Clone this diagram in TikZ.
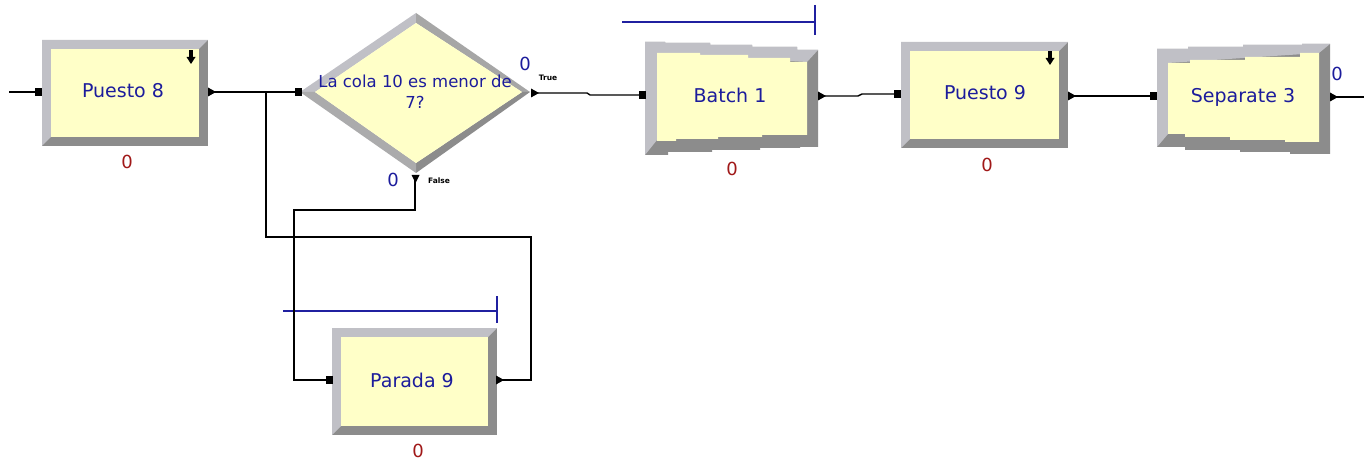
\documentclass[tikz,border=0pt]{standalone}
\usepackage{fontspec}
\setmainfont{DejaVu Sans}
\definecolor{boxfill}{HTML}{FFFFC8}
\definecolor{bevlight}{HTML}{C0C0C6}
\definecolor{bevdark}{HTML}{8C8C8C}
\definecolor{bevmid}{HTML}{A6A6A6}
\definecolor{labblue}{HTML}{1C1C9C}
\definecolor{cntred}{HTML}{A01818}
\definecolor{qblue}{HTML}{2020A0}
\tikzset{
  lab/.style={text=labblue, font=\fontsize{19}{21}\selectfont, inner sep=0pt, align=center},
  declab/.style={text=labblue, font=\fontsize{16.5}{21}\selectfont, inner sep=0pt, align=center},
  cnt/.style={text=cntred, font=\fontsize{18}{20}\selectfont, inner sep=0pt},
  bcnt/.style={text=labblue, font=\fontsize{18}{20}\selectfont, inner sep=0pt},
  tiny/.style={text=black, font=\fontsize{7.5}{8}\selectfont\bfseries, inner sep=0pt},
  conn/.style={draw=black, line width=1.4pt},
  queue/.style={draw=qblue, line width=1.8pt},
}
\newcommand\arenabox[4]{%
  \fill[bevdark] (#1,#2) rectangle (#3,#4);
  \fill[bevlight] (#1,#2) -- (#3,#2) -- ({#3-9},{#2+9}) -- ({#1+9},{#2+9}) -- ({#1+9},{#4-9}) -- (#1,#4) -- cycle;
  \fill[boxfill] ({#1+9},{#2+9}) rectangle ({#3-9},{#4-9});}
\newcommand\inport[2]{\fill[black] ({#1-3.5},{#2-4}) rectangle ({#1+3.5},{#2+4});}
\newcommand\outport[2]{\fill[black] ({#1-2},{#2-4.5}) -- ({#1+6},{#2}) -- ({#1-2},{#2+4.5}) -- cycle;}
\newcommand\resicon[2]{%
  \fill[black] ({#1-1.8},{#2}) rectangle ({#1+1.8},{#2+9});
  \fill[black] ({#1-4.5},{#2+7}) -- ({#1+4.5},{#2+7}) -- ({#1},{#2+14}) -- cycle;}
\begin{document}
\begin{tikzpicture}[x=1pt,y=-1pt]
\useasboundingbox (0,0) rectangle (1364,462);
\fill[white] (0,0) rectangle (1364,462);

% ---------- Puesto 8
\arenabox{42}{40}{208}{146}
\resicon{191}{50}
\node[lab] (p8) at (123,91) {Puesto 8};
\node[cnt] (p8c) at (127,162) {0};
\coordinate (p8in) at (38,92);
\coordinate (p8out) at (210,92);

% ---------- Decide
\fill[bevlight] (300,92) -- (416,13) -- (416,23) -- (315,92) -- cycle;
\fill[bevmid] (416,13) -- (530,92) -- (522,92) -- (416,23) -- cycle;
\fill[bevdark] (530,92) -- (416,173) -- (416,163) -- (522,92) -- cycle;
\fill[bevmid!80!bevlight] (416,173) -- (300,92) -- (315,92) -- (416,163) -- cycle;
\fill[boxfill] (315,92) -- (416,23) -- (522,92) -- (416,163) -- cycle;
\node[declab] (dec) at (415,92) {La cola 10 es menor de\\7?};
\node[bcnt] (dect) at (525,64) {0};
\node[bcnt] (decf) at (393,180) {0};
\node[tiny] (truelab) at (548,78) {True};
\node[tiny] (falselab) at (439,181) {False};
\coordinate (decin) at (298,92);
\coordinate (dectrue) at (533,93);
\coordinate (decfalse) at (415,177);

% ---------- Batch 1 (queue line)
\draw[queue] (622,22) -- (815,22);
\draw[queue] (815,5) -- (815,35);
\fill[bevdark] (645,42) -- (665,42) -- (665,43) -- (710,43) -- (710,45) -- (752,45) -- (752,47) -- (797,47) -- (797,50) -- (818,50)
  -- (818,147) -- (800,147) -- (800,148) -- (760,148) -- (760,150) -- (712,150) -- (712,152) -- (668,152) -- (668,155) -- (645,155) -- cycle;
\fill[bevlight] (645,42) -- (665,42) -- (665,43) -- (710,43) -- (710,45) -- (752,45) -- (752,47) -- (797,47) -- (797,50) -- (818,50)
  -- (807,62) -- (657,53) -- (657,140) -- (645,155) -- cycle;
\fill[boxfill] (657,53) -- (700,53) -- (700,55) -- (748,55) -- (748,58) -- (790,58) -- (790,62) -- (807,62)
  -- (807,135) -- (762,135) -- (762,137) -- (718,137) -- (718,139) -- (676,139) -- (676,141) -- (657,141) -- cycle;
\node[lab] (b1) at (730,95) {Batch 1};
\node[cnt] (b1c) at (732,169) {0};
\coordinate (b1in) at (642,95);
\coordinate (b1out) at (820,96);

% ---------- Puesto 9
\arenabox{901}{42}{1068}{148}
\resicon{1050}{51}
\node[lab] (p9) at (985,93) {Puesto 9};
\node[cnt] (p9c) at (987,165) {0};
\coordinate (p9in) at (897,94);
\coordinate (p9out) at (1070,96);

% ---------- Separate 3
\fill[bevdark] (1157,49) -- (1188,49) -- (1188,47) -- (1243,47) -- (1243,45) -- (1302,45) -- (1302,44) -- (1330,44)
  -- (1330,154) -- (1290,154) -- (1290,152) -- (1240,152) -- (1240,150) -- (1185,150) -- (1185,147) -- (1157,147) -- cycle;
\fill[bevlight] (1157,49) -- (1188,49) -- (1188,47) -- (1243,47) -- (1243,45) -- (1302,45) -- (1302,44) -- (1330,44)
  -- (1319,53) -- (1168,63) -- (1168,134) -- (1157,147) -- cycle;
\fill[boxfill] (1168,63) -- (1190,63) -- (1190,60) -- (1245,60) -- (1245,57) -- (1300,57) -- (1300,53) -- (1319,53)
  -- (1319,142) -- (1285,142) -- (1285,140) -- (1230,140) -- (1230,137) -- (1185,137) -- (1185,134) -- (1168,134) -- cycle;
\node[lab] (s3) at (1243,97) {Separate 3};
\node[bcnt] (s3c) at (1337,74) {0};
\coordinate (s3in) at (1153,96);
\coordinate (s3out) at (1332,97);

% ---------- Parada 9 (queue line)
\draw[queue] (283,311) -- (497,311);
\draw[queue] (497,296) -- (497,323);
\arenabox{332}{328}{497}{435}
\node[lab] (pa9) at (412,380) {Parada 9};
\node[cnt] (pa9c) at (418,451) {0};
\coordinate (pa9in) at (329,380);
\coordinate (pa9out) at (498,380);

% ---------- free ends
\coordinate (src) at (9,92);
\coordinate (sink) at (1364,97);

% ---------- connectors
\draw[conn] (src) -- (p8in);
\draw[conn] (p8out) -- (decin);
\draw[conn] (pa9out) -- (531,380) -- (531,237) -- (266,237) -- (266,92);
\draw[conn] (decfalse) -- (415,210) -- (294,210) -- (294,380) -- (pa9in);
\draw[conn] (dectrue) -- (587,93) -- (590,95) -- (b1in);
\draw[conn] (b1out) -- (858,96) -- (862,94) -- (p9in);
\draw[conn] (p9out) -- (s3in);
\draw[conn] (s3out) -- (sink);

% ---------- ports
\inport{38}{92} \outport{210}{92}
\inport{298}{92} \outport{533}{93}
\fill[black] (411.5,175) -- (419.5,175) -- (415.5,183) -- cycle;
\inport{642}{95} \outport{820}{96}
\inport{897}{94} \outport{1070}{96}
\inport{1153}{96} \outport{1332}{97}
\inport{329}{380} \outport{498}{380}
\end{tikzpicture}
\end{document}
